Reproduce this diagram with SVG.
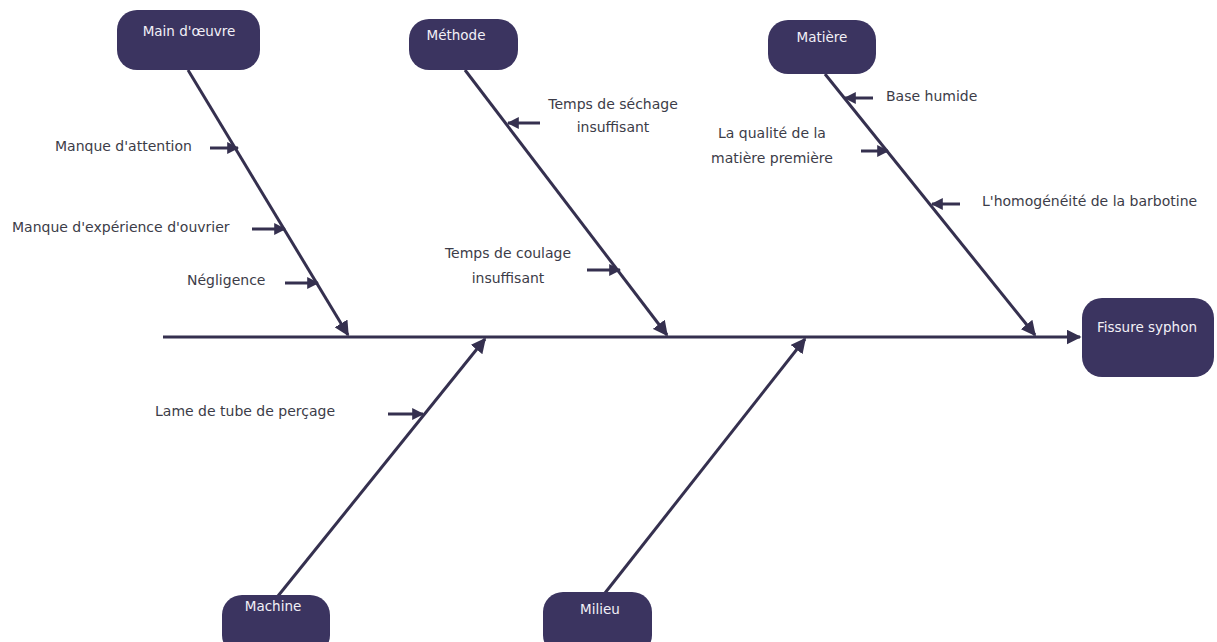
<svg xmlns="http://www.w3.org/2000/svg" width="1217" height="642" viewBox="0 0 1217 642">
<defs>
<style>
.box{fill:#3b3460;}
.bt{font-family:"DejaVu Sans",sans-serif;font-size:13.5px;fill:#f2f0f7;text-anchor:middle;}
.lb{font-family:"DejaVu Sans",sans-serif;font-size:14px;fill:#3c3c48;}
.ln{stroke:#35304f;stroke-width:3;fill:none;}
.sa{stroke:#35304f;stroke-width:3;fill:none;}
</style>
<marker id="ah" viewBox="0 0 10 10" refX="9" refY="5" markerWidth="5" markerHeight="5" orient="auto" markerUnits="strokeWidth">
<path d="M0,0 L10,5 L0,10 Z" fill="#35304f"/>
</marker>
<marker id="sh" viewBox="0 0 10 10" refX="9" refY="5" markerWidth="4" markerHeight="4" orient="auto" markerUnits="strokeWidth">
<path d="M0,0 L10,5 L0,10 Z" fill="#35304f"/>
</marker>
</defs>
<rect width="1217" height="642" fill="#ffffff"/>
<g id="connectors">
<line class="ln" x1="163" y1="337" x2="1080" y2="337" marker-end="url(#ah)"/>
<line class="ln" x1="188" y1="70" x2="348" y2="335" marker-end="url(#ah)"/>
<line class="ln" x1="465" y1="70" x2="667" y2="335" marker-end="url(#ah)"/>
<line class="ln" x1="825" y1="74" x2="1035" y2="335" marker-end="url(#ah)"/>
<line class="ln" x1="278" y1="596" x2="485" y2="339" marker-end="url(#ah)"/>
<line class="ln" x1="605" y1="593" x2="805" y2="339" marker-end="url(#ah)"/>
<line class="sa" x1="210" y1="148" x2="238" y2="148" marker-end="url(#sh)"/>
<line class="sa" x1="252" y1="229" x2="285" y2="229" marker-end="url(#sh)"/>
<line class="sa" x1="285" y1="283" x2="318" y2="283" marker-end="url(#sh)"/>
<line class="sa" x1="540" y1="123" x2="508" y2="123" marker-end="url(#sh)"/>
<line class="sa" x1="587" y1="270" x2="620" y2="270" marker-end="url(#sh)"/>
<line class="sa" x1="873" y1="98" x2="845" y2="98" marker-end="url(#sh)"/>
<line class="sa" x1="861" y1="151" x2="888" y2="151" marker-end="url(#sh)"/>
<line class="sa" x1="960" y1="204" x2="932" y2="204" marker-end="url(#sh)"/>
<line class="sa" x1="388" y1="414" x2="423" y2="414" marker-end="url(#sh)"/>
</g>
<g id="main-oeuvre">
<rect class="box" x="117" y="10" width="143" height="60" rx="20"/>
<text class="bt" x="189" y="36">Main d'œuvre</text>
</g>
<g id="methode">
<rect class="box" x="409" y="19" width="109" height="51" rx="20"/>
<text class="bt" x="456" y="40">Méthode</text>
</g>
<g id="matiere">
<rect class="box" x="768" y="20" width="108" height="54" rx="20"/>
<text class="bt" x="822" y="42">Matière</text>
</g>
<g id="fissure">
<rect class="box" x="1082" y="298" width="132" height="79" rx="20"/>
<text class="bt" x="1147" y="332">Fissure syphon</text>
</g>
<g id="machine">
<rect class="box" x="222" y="595" width="108" height="60" rx="20"/>
<text class="bt" x="273" y="611">Machine</text>
</g>
<g id="milieu">
<rect class="box" x="543" y="592" width="109" height="63" rx="20"/>
<text class="bt" x="600" y="614">Milieu</text>
</g>
<g id="causes">
<text class="lb" x="55" y="151">Manque d'attention</text>
<text class="lb" x="12" y="232">Manque d'expérience d'ouvrier</text>
<text class="lb" x="187" y="285">Négligence</text>
<text class="lb" x="613" y="109" text-anchor="middle">Temps de séchage</text>
<text class="lb" x="613" y="132" text-anchor="middle">insuffisant</text>
<text class="lb" x="508" y="258" text-anchor="middle">Temps de coulage</text>
<text class="lb" x="508" y="283" text-anchor="middle">insuffisant</text>
<text class="lb" x="886" y="101">Base humide</text>
<text class="lb" x="772" y="138" text-anchor="middle">La qualité de la</text>
<text class="lb" x="772" y="163" text-anchor="middle">matière première</text>
<text class="lb" x="982" y="206">L'homogénéité de la barbotine</text>
<text class="lb" x="155" y="416">Lame de tube de perçage</text>
</g>
</svg>
